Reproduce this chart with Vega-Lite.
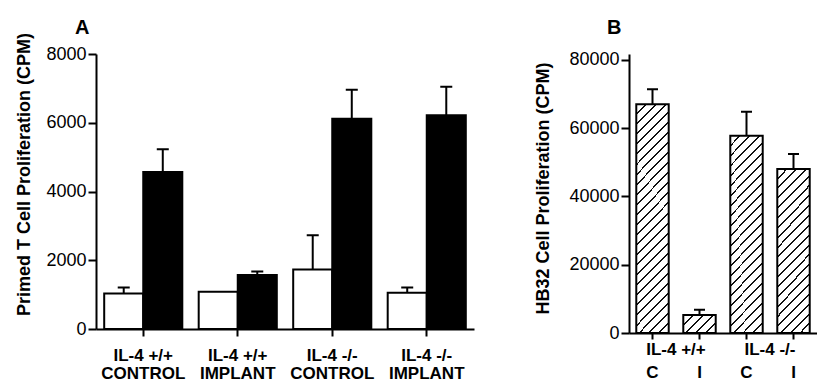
{
"$schema": "https://vega.github.io/schema/vega-lite/v6.json",
"padding": {"left": 14, "top": 17, "right": 0, "bottom": 0},
"background": "white",
"spacing": 59,
"config": {
  "view": {"stroke": null},
  "font": "Liberation Sans",
  "axis": {"domainColor": "black", "domainWidth": 2, "tickColor": "black", "tickWidth": 2, "labelColor": "black", "titleColor": "black", "grid": false, "labelFont": "Liberation Sans", "titleFont": "Liberation Sans"},
  "title": {"font": "Liberation Sans", "fontSize": 20, "fontWeight": "bold", "color": "black", "anchor": "start", "frame": "group"}
},
"datasets": {
  "a": [
    {"group": "IL-4 +/+|CONTROL", "series": "S1", "value": 1030, "upper": 1210},
    {"group": "IL-4 +/+|CONTROL", "series": "S2", "value": 4570, "upper": 5230},
    {"group": "IL-4 +/+|IMPLANT", "series": "S1", "value": 1085, "upper": 1085},
    {"group": "IL-4 +/+|IMPLANT", "series": "S2", "value": 1570, "upper": 1675},
    {"group": "IL-4 -/-|CONTROL", "series": "S1", "value": 1730, "upper": 2730},
    {"group": "IL-4 -/-|CONTROL", "series": "S2", "value": 6120, "upper": 6960},
    {"group": "IL-4 -/-|IMPLANT", "series": "S1", "value": 1055, "upper": 1210},
    {"group": "IL-4 -/-|IMPLANT", "series": "S2", "value": 6220, "upper": 7050}
  ],
  "b": [
    {"genotype": "IL-4 +/+", "treatment": "C", "bar": "IL-4 +/+ C", "value": 67000, "upper": 71400},
    {"genotype": "IL-4 +/+", "treatment": "I", "bar": "IL-4 +/+ I", "value": 5270, "upper": 6830},
    {"genotype": "IL-4 -/-", "treatment": "C", "bar": "IL-4 -/- C", "value": 57800, "upper": 64850},
    {"genotype": "IL-4 -/-", "treatment": "I", "bar": "IL-4 -/- I", "value": 48060, "upper": 52450}
  ]
},
"hconcat": [
  {
    "width": 378, "height": 275,
    "title": {"text": "A", "dx": -21, "offset": -5.5},
    "data": {"name": "a"},
    "encoding": {
      "x": {"field": "group", "type": "nominal", "sort": ["IL-4 +/+|CONTROL", "IL-4 +/+|IMPLANT", "IL-4 -/-|CONTROL", "IL-4 -/-|IMPLANT"],
            "scale": {"paddingInner": 0, "paddingOuter": 0},
            "axis": {"title": null, "labelAngle": 0, "labelExpr": "split(datum.value, '|')", "labelFontSize": 17, "labelFontWeight": "bold", "labelLineHeight": 18, "tickSize": 7, "labelPadding": 11}},
      "xOffset": {"field": "series", "type": "nominal", "sort": ["S1", "S2"], "scale": {"paddingInner": 0, "paddingOuter": 0.21}},
      "y": {"field": "value", "type": "quantitative", "title": "Primed T Cell Proliferation (CPM)",
            "scale": {"domain": [0, 8000], "nice": false},
            "axis": {"values": [0, 2000, 4000, 6000, 8000], "format": "d", "labelFontSize": 18, "tickSize": 8, "labelPadding": 2, "titleFontSize": 18, "titleFontWeight": "bold", "titleX": -63, "titleY": 120}}
    },
    "layer": [
      {"mark": {"type": "bar", "stroke": "black", "strokeWidth": 2},
       "encoding": {"fill": {"field": "series", "type": "nominal", "scale": {"domain": ["S1", "S2"], "range": ["white", "black"]}, "legend": null}}},
      {"transform": [{"filter": "datum.upper > datum.value"}],
       "mark": {"type": "bar", "width": 2, "color": "black"},
       "encoding": {"y2": {"field": "upper"}}},
      {"transform": [{"filter": "datum.upper > datum.value"}],
       "mark": {"type": "bar", "width": 12, "fill": "black", "stroke": "black", "strokeWidth": 2},
       "encoding": {"y": {"field": "upper", "type": "quantitative", "title": "Primed T Cell Proliferation (CPM)"}, "y2": {"field": "upper"}}}
    ]
  },
  {
    "width": 188, "height": 279,
    "title": {"text": "B", "dx": -22, "offset": 12.5},
    "data": {"name": "b"},
    "layer": [
      {
        "encoding": {
          "x": {"field": "bar", "type": "nominal",
                "scale": {"domain": ["IL-4 +/+ C", "IL-4 +/+ I", "IL-4 -/- C", "IL-4 -/- I"], "paddingInner": 0.31, "paddingOuter": 0.155},
                "axis": {"title": null, "orient": "bottom", "labelAngle": 0, "labelExpr": "substring(datum.value, length(datum.value) - 1)", "labelFontSize": 17, "labelFontWeight": "bold", "tickSize": 6, "labelPadding": 25.5}},
          "y": {"field": "value", "type": "quantitative", "title": "HB32 Cell Proliferation (CPM)",
                "scale": {"domain": [0, 81758], "nice": false},
                "axis": {"values": [0, 20000, 40000, 60000, 80000], "format": "d", "labelFontSize": 18, "tickSize": 8, "labelPadding": 2, "titleFontSize": 18, "titleFontWeight": "bold", "titleX": -77, "titleY": 134}}
        },
        "layer": [
          {"transform": [{"filter": "datum.bar == 'IL-4 +/+ C'"}],
           "mark": {"type": "bar", "stroke": "black", "strokeWidth": 2,
             "fill": {"gradient": "linear", "id": "hatchb1", "x1": 0, "y1": 0, "x2": 0.1618, "y2": 1.1211, "stops": [
               {"offset": 0, "color": "#fff"},
               {"offset": 0.0347, "color": "#fff"}, {"offset": 0.0347, "color": "#111"}, {"offset": 0.0423, "color": "#111"}, {"offset": 0.0423, "color": "#fff"},
               {"offset": 0.0731, "color": "#fff"}, {"offset": 0.0731, "color": "#111"}, {"offset": 0.0807, "color": "#111"}, {"offset": 0.0807, "color": "#fff"},
               {"offset": 0.1116, "color": "#fff"}, {"offset": 0.1116, "color": "#111"}, {"offset": 0.1192, "color": "#111"}, {"offset": 0.1192, "color": "#fff"},
               {"offset": 0.1500, "color": "#fff"}, {"offset": 0.1500, "color": "#111"}, {"offset": 0.1577, "color": "#111"}, {"offset": 0.1577, "color": "#fff"},
               {"offset": 0.1885, "color": "#fff"}, {"offset": 0.1885, "color": "#111"}, {"offset": 0.1961, "color": "#111"}, {"offset": 0.1961, "color": "#fff"},
               {"offset": 0.2270, "color": "#fff"}, {"offset": 0.2270, "color": "#111"}, {"offset": 0.2346, "color": "#111"}, {"offset": 0.2346, "color": "#fff"},
               {"offset": 0.2654, "color": "#fff"}, {"offset": 0.2654, "color": "#111"}, {"offset": 0.2730, "color": "#111"}, {"offset": 0.2730, "color": "#fff"},
               {"offset": 0.3039, "color": "#fff"}, {"offset": 0.3039, "color": "#111"}, {"offset": 0.3115, "color": "#111"}, {"offset": 0.3115, "color": "#fff"},
               {"offset": 0.3424, "color": "#fff"}, {"offset": 0.3424, "color": "#111"}, {"offset": 0.3500, "color": "#111"}, {"offset": 0.3500, "color": "#fff"},
               {"offset": 0.3808, "color": "#fff"}, {"offset": 0.3808, "color": "#111"}, {"offset": 0.3884, "color": "#111"}, {"offset": 0.3884, "color": "#fff"},
               {"offset": 0.4193, "color": "#fff"}, {"offset": 0.4193, "color": "#111"}, {"offset": 0.4269, "color": "#111"}, {"offset": 0.4269, "color": "#fff"},
               {"offset": 0.4577, "color": "#fff"}, {"offset": 0.4577, "color": "#111"}, {"offset": 0.4653, "color": "#111"}, {"offset": 0.4653, "color": "#fff"},
               {"offset": 0.4962, "color": "#fff"}, {"offset": 0.4962, "color": "#111"}, {"offset": 0.5038, "color": "#111"}, {"offset": 0.5038, "color": "#fff"},
               {"offset": 0.5347, "color": "#fff"}, {"offset": 0.5347, "color": "#111"}, {"offset": 0.5423, "color": "#111"}, {"offset": 0.5423, "color": "#fff"},
               {"offset": 0.5731, "color": "#fff"}, {"offset": 0.5731, "color": "#111"}, {"offset": 0.5807, "color": "#111"}, {"offset": 0.5807, "color": "#fff"},
               {"offset": 0.6116, "color": "#fff"}, {"offset": 0.6116, "color": "#111"}, {"offset": 0.6192, "color": "#111"}, {"offset": 0.6192, "color": "#fff"},
               {"offset": 0.6500, "color": "#fff"}, {"offset": 0.6500, "color": "#111"}, {"offset": 0.6577, "color": "#111"}, {"offset": 0.6577, "color": "#fff"},
               {"offset": 0.6885, "color": "#fff"}, {"offset": 0.6885, "color": "#111"}, {"offset": 0.6961, "color": "#111"}, {"offset": 0.6961, "color": "#fff"},
               {"offset": 0.7270, "color": "#fff"}, {"offset": 0.7270, "color": "#111"}, {"offset": 0.7346, "color": "#111"}, {"offset": 0.7346, "color": "#fff"},
               {"offset": 0.7654, "color": "#fff"}, {"offset": 0.7654, "color": "#111"}, {"offset": 0.7730, "color": "#111"}, {"offset": 0.7730, "color": "#fff"},
               {"offset": 0.8039, "color": "#fff"}, {"offset": 0.8039, "color": "#111"}, {"offset": 0.8115, "color": "#111"}, {"offset": 0.8115, "color": "#fff"},
               {"offset": 0.8424, "color": "#fff"}, {"offset": 0.8424, "color": "#111"}, {"offset": 0.8500, "color": "#111"}, {"offset": 0.8500, "color": "#fff"},
               {"offset": 0.8808, "color": "#fff"}, {"offset": 0.8808, "color": "#111"}, {"offset": 0.8884, "color": "#111"}, {"offset": 0.8884, "color": "#fff"},
               {"offset": 0.9193, "color": "#fff"}, {"offset": 0.9193, "color": "#111"}, {"offset": 0.9269, "color": "#111"}, {"offset": 0.9269, "color": "#fff"},
               {"offset": 0.9577, "color": "#fff"}, {"offset": 0.9577, "color": "#111"}, {"offset": 0.9653, "color": "#111"}, {"offset": 0.9653, "color": "#fff"},
               {"offset": 1, "color": "#fff"}]}}},
          {"transform": [{"filter": "datum.bar == 'IL-4 +/+ I'"}],
           "mark": {"type": "bar", "stroke": "black", "strokeWidth": 2,
             "fill": {"gradient": "linear", "id": "hatchb2", "x1": 0, "y1": 0, "x2": 1.1911, "y2": 0.6497, "stops": [
               {"offset": 0, "color": "#fff"},
               {"offset": 0.1804, "color": "#fff"}, {"offset": 0.1804, "color": "#111"}, {"offset": 0.2196, "color": "#111"}, {"offset": 0.2196, "color": "#fff"},
               {"offset": 0.3804, "color": "#fff"}, {"offset": 0.3804, "color": "#111"}, {"offset": 0.4196, "color": "#111"}, {"offset": 0.4196, "color": "#fff"},
               {"offset": 0.5804, "color": "#fff"}, {"offset": 0.5804, "color": "#111"}, {"offset": 0.6196, "color": "#111"}, {"offset": 0.6196, "color": "#fff"},
               {"offset": 0.7804, "color": "#fff"}, {"offset": 0.7804, "color": "#111"}, {"offset": 0.8196, "color": "#111"}, {"offset": 0.8196, "color": "#fff"},
               {"offset": 1, "color": "#fff"}]}}},
          {"transform": [{"filter": "datum.bar == 'IL-4 -/- C'"}],
           "mark": {"type": "bar", "stroke": "black", "strokeWidth": 2,
             "fill": {"gradient": "linear", "id": "hatchb3", "x1": 0, "y1": 0, "x2": 0.1900, "y2": 1.1355, "stops": [
               {"offset": 0, "color": "#fff"},
               {"offset": 0.0392, "color": "#fff"}, {"offset": 0.0392, "color": "#111"}, {"offset": 0.0478, "color": "#111"}, {"offset": 0.0478, "color": "#fff"},
               {"offset": 0.0827, "color": "#fff"}, {"offset": 0.0827, "color": "#111"}, {"offset": 0.0913, "color": "#111"}, {"offset": 0.0913, "color": "#fff"},
               {"offset": 0.1261, "color": "#fff"}, {"offset": 0.1261, "color": "#111"}, {"offset": 0.1347, "color": "#111"}, {"offset": 0.1347, "color": "#fff"},
               {"offset": 0.1696, "color": "#fff"}, {"offset": 0.1696, "color": "#111"}, {"offset": 0.1782, "color": "#111"}, {"offset": 0.1782, "color": "#fff"},
               {"offset": 0.2131, "color": "#fff"}, {"offset": 0.2131, "color": "#111"}, {"offset": 0.2217, "color": "#111"}, {"offset": 0.2217, "color": "#fff"},
               {"offset": 0.2566, "color": "#fff"}, {"offset": 0.2566, "color": "#111"}, {"offset": 0.2652, "color": "#111"}, {"offset": 0.2652, "color": "#fff"},
               {"offset": 0.3000, "color": "#fff"}, {"offset": 0.3000, "color": "#111"}, {"offset": 0.3087, "color": "#111"}, {"offset": 0.3087, "color": "#fff"},
               {"offset": 0.3435, "color": "#fff"}, {"offset": 0.3435, "color": "#111"}, {"offset": 0.3521, "color": "#111"}, {"offset": 0.3521, "color": "#fff"},
               {"offset": 0.3870, "color": "#fff"}, {"offset": 0.3870, "color": "#111"}, {"offset": 0.3956, "color": "#111"}, {"offset": 0.3956, "color": "#fff"},
               {"offset": 0.4305, "color": "#fff"}, {"offset": 0.4305, "color": "#111"}, {"offset": 0.4391, "color": "#111"}, {"offset": 0.4391, "color": "#fff"},
               {"offset": 0.4740, "color": "#fff"}, {"offset": 0.4740, "color": "#111"}, {"offset": 0.4826, "color": "#111"}, {"offset": 0.4826, "color": "#fff"},
               {"offset": 0.5174, "color": "#fff"}, {"offset": 0.5174, "color": "#111"}, {"offset": 0.5260, "color": "#111"}, {"offset": 0.5260, "color": "#fff"},
               {"offset": 0.5609, "color": "#fff"}, {"offset": 0.5609, "color": "#111"}, {"offset": 0.5695, "color": "#111"}, {"offset": 0.5695, "color": "#fff"},
               {"offset": 0.6044, "color": "#fff"}, {"offset": 0.6044, "color": "#111"}, {"offset": 0.6130, "color": "#111"}, {"offset": 0.6130, "color": "#fff"},
               {"offset": 0.6479, "color": "#fff"}, {"offset": 0.6479, "color": "#111"}, {"offset": 0.6565, "color": "#111"}, {"offset": 0.6565, "color": "#fff"},
               {"offset": 0.6913, "color": "#fff"}, {"offset": 0.6913, "color": "#111"}, {"offset": 0.7000, "color": "#111"}, {"offset": 0.7000, "color": "#fff"},
               {"offset": 0.7348, "color": "#fff"}, {"offset": 0.7348, "color": "#111"}, {"offset": 0.7434, "color": "#111"}, {"offset": 0.7434, "color": "#fff"},
               {"offset": 0.7783, "color": "#fff"}, {"offset": 0.7783, "color": "#111"}, {"offset": 0.7869, "color": "#111"}, {"offset": 0.7869, "color": "#fff"},
               {"offset": 0.8218, "color": "#fff"}, {"offset": 0.8218, "color": "#111"}, {"offset": 0.8304, "color": "#111"}, {"offset": 0.8304, "color": "#fff"},
               {"offset": 0.8653, "color": "#fff"}, {"offset": 0.8653, "color": "#111"}, {"offset": 0.8739, "color": "#111"}, {"offset": 0.8739, "color": "#fff"},
               {"offset": 0.9087, "color": "#fff"}, {"offset": 0.9087, "color": "#111"}, {"offset": 0.9173, "color": "#111"}, {"offset": 0.9173, "color": "#fff"},
               {"offset": 0.9522, "color": "#fff"}, {"offset": 0.9522, "color": "#111"}, {"offset": 0.9608, "color": "#111"}, {"offset": 0.9608, "color": "#fff"},
               {"offset": 1, "color": "#fff"}]}}},
          {"transform": [{"filter": "datum.bar == 'IL-4 -/- I'"}],
           "mark": {"type": "bar", "stroke": "black", "strokeWidth": 2,
             "fill": {"gradient": "linear", "id": "hatchb4", "x1": 0, "y1": 0, "x2": 0.2323, "y2": 1.1545, "stops": [
               {"offset": 0, "color": "#fff"},
               {"offset": 0.0449, "color": "#fff"}, {"offset": 0.0449, "color": "#111"}, {"offset": 0.0551, "color": "#111"}, {"offset": 0.0551, "color": "#fff"},
               {"offset": 0.0949, "color": "#fff"}, {"offset": 0.0949, "color": "#111"}, {"offset": 0.1051, "color": "#111"}, {"offset": 0.1051, "color": "#fff"},
               {"offset": 0.1449, "color": "#fff"}, {"offset": 0.1449, "color": "#111"}, {"offset": 0.1551, "color": "#111"}, {"offset": 0.1551, "color": "#fff"},
               {"offset": 0.1949, "color": "#fff"}, {"offset": 0.1949, "color": "#111"}, {"offset": 0.2051, "color": "#111"}, {"offset": 0.2051, "color": "#fff"},
               {"offset": 0.2449, "color": "#fff"}, {"offset": 0.2449, "color": "#111"}, {"offset": 0.2551, "color": "#111"}, {"offset": 0.2551, "color": "#fff"},
               {"offset": 0.2949, "color": "#fff"}, {"offset": 0.2949, "color": "#111"}, {"offset": 0.3051, "color": "#111"}, {"offset": 0.3051, "color": "#fff"},
               {"offset": 0.3449, "color": "#fff"}, {"offset": 0.3449, "color": "#111"}, {"offset": 0.3551, "color": "#111"}, {"offset": 0.3551, "color": "#fff"},
               {"offset": 0.3949, "color": "#fff"}, {"offset": 0.3949, "color": "#111"}, {"offset": 0.4051, "color": "#111"}, {"offset": 0.4051, "color": "#fff"},
               {"offset": 0.4449, "color": "#fff"}, {"offset": 0.4449, "color": "#111"}, {"offset": 0.4551, "color": "#111"}, {"offset": 0.4551, "color": "#fff"},
               {"offset": 0.4949, "color": "#fff"}, {"offset": 0.4949, "color": "#111"}, {"offset": 0.5051, "color": "#111"}, {"offset": 0.5051, "color": "#fff"},
               {"offset": 0.5449, "color": "#fff"}, {"offset": 0.5449, "color": "#111"}, {"offset": 0.5551, "color": "#111"}, {"offset": 0.5551, "color": "#fff"},
               {"offset": 0.5949, "color": "#fff"}, {"offset": 0.5949, "color": "#111"}, {"offset": 0.6051, "color": "#111"}, {"offset": 0.6051, "color": "#fff"},
               {"offset": 0.6449, "color": "#fff"}, {"offset": 0.6449, "color": "#111"}, {"offset": 0.6551, "color": "#111"}, {"offset": 0.6551, "color": "#fff"},
               {"offset": 0.6949, "color": "#fff"}, {"offset": 0.6949, "color": "#111"}, {"offset": 0.7051, "color": "#111"}, {"offset": 0.7051, "color": "#fff"},
               {"offset": 0.7449, "color": "#fff"}, {"offset": 0.7449, "color": "#111"}, {"offset": 0.7551, "color": "#111"}, {"offset": 0.7551, "color": "#fff"},
               {"offset": 0.7949, "color": "#fff"}, {"offset": 0.7949, "color": "#111"}, {"offset": 0.8051, "color": "#111"}, {"offset": 0.8051, "color": "#fff"},
               {"offset": 0.8449, "color": "#fff"}, {"offset": 0.8449, "color": "#111"}, {"offset": 0.8551, "color": "#111"}, {"offset": 0.8551, "color": "#fff"},
               {"offset": 0.8949, "color": "#fff"}, {"offset": 0.8949, "color": "#111"}, {"offset": 0.9051, "color": "#111"}, {"offset": 0.9051, "color": "#fff"},
               {"offset": 0.9449, "color": "#fff"}, {"offset": 0.9449, "color": "#111"}, {"offset": 0.9551, "color": "#111"}, {"offset": 0.9551, "color": "#fff"},
               {"offset": 1, "color": "#fff"}]}}},
          {"mark": {"type": "bar", "width": 2, "color": "black"},
           "encoding": {"y2": {"field": "upper"}}},
          {"mark": {"type": "bar", "width": 11, "fill": "black", "stroke": "black", "strokeWidth": 2},
           "encoding": {"y": {"field": "upper", "type": "quantitative", "title": "HB32 Cell Proliferation (CPM)"}, "y2": {"field": "upper"}}}
        ]
      },
      {
        "mark": {"type": "bar", "opacity": 0},
        "encoding": {
          "x": {"field": "genotype", "type": "nominal", "sort": ["IL-4 +/+", "IL-4 -/-"],
                "scale": {"paddingInner": 0, "paddingOuter": 0},
                "axis": {"title": null, "orient": "bottom", "labelAngle": 0, "ticks": false, "tickSize": 0, "domain": false, "labelFontSize": 17, "labelFontWeight": "bold", "labelPadding": 8.5}},
          "y": {"field": "value", "type": "quantitative", "stack": null, "title": "HB32 Cell Proliferation (CPM)"}
        }
      }
    ],
    "resolve": {"scale": {"x": "independent"}, "axis": {"x": "independent"}}
  }
]
}
